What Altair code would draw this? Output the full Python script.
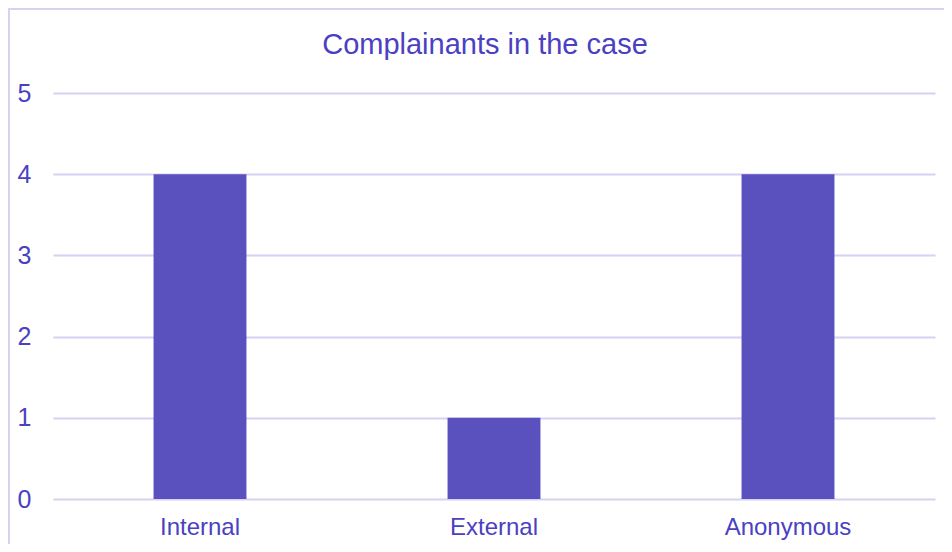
import altair as alt
import pandas as pd

categories = ["Internal", "External", "Anonymous"]
values = [4, 1, 4]

df = pd.DataFrame({"category": categories, "count": values})

TEXT = "#4B3FC2"
BAR = "#5A50BE"
GRID = "#D6D2F2"
FONT = "Liberation Sans"

bars = alt.Chart(df).mark_bar(
    color=BAR, width=alt.RelativeBandSize(0.316)
).encode(
    x=alt.X("category:N", sort=categories, title=None,
            scale=alt.Scale(paddingInner=0, paddingOuter=0),
            axis=alt.Axis(labelAngle=0, labelFontSize=24, labelColor=TEXT,
                          labelFont=FONT, domain=False, ticks=False,
                          labelPadding=16, grid=False)),
    y=alt.Y("count:Q", title=None,
            scale=alt.Scale(domain=[0, 5], nice=False),
            axis=alt.Axis(values=[0, 1, 2, 3, 4, 5], labelFontSize=25,
                          labelColor=TEXT, labelFont=FONT, domain=False,
                          ticks=False, labelPadding=22, gridColor=GRID,
                          gridWidth=2)),
)

frame = alt.Chart(df).mark_rect(
    fill=None, stroke=GRID, strokeWidth=2
).encode(
    x=alt.value(-44), x2=alt.value(930),
    y=alt.value(-84), y2=alt.value(520),
)

chart = alt.layer(frame, bars).properties(
    width=882,
    height=406,
    padding={"left": 45, "top": 85, "right": 9, "bottom": 45},
    autosize=alt.AutoSizeParams(type="none"),
    title=alt.TitleParams("Complainants in the case", fontSize=29,
                          color=TEXT, font=FONT, fontWeight="normal",
                          anchor="middle", offset=0, dy=52, dx=-9),
).configure_view(stroke=None)

chart.save("out.html", embed_options={"renderer": "svg", "actions": False})
